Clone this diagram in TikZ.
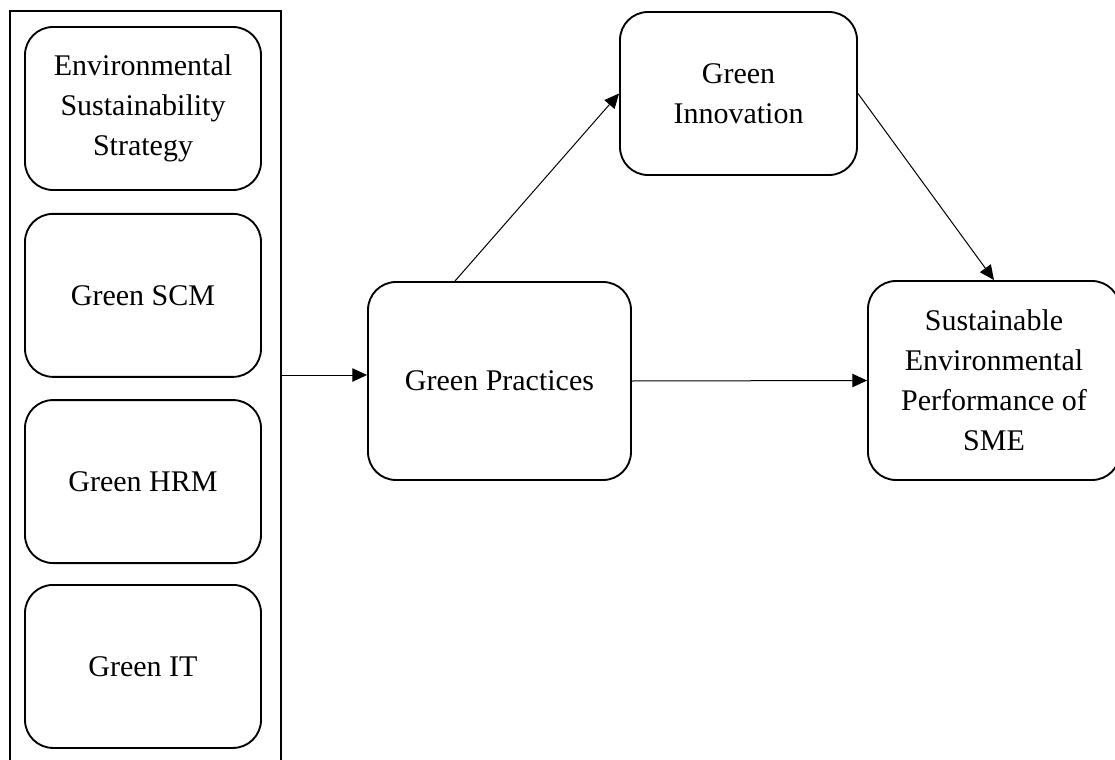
\documentclass[tikz,border=0pt]{standalone}
\usepackage{fontspec}
\setmainfont{Liberation Serif}
\usepackage{tikz}
\usetikzlibrary{positioning,arrows.meta}

\begin{document}
\begin{tikzpicture}[x=0.75pt,y=-0.75pt,
  box/.style={draw,line width=1.4pt,rounded corners=21pt,align=center,
    inner sep=0pt,font=\fontsize{22.5}{30}\selectfont},
  factor/.style={box,minimum width=177pt,minimum height=122.25pt},
  link/.style={-{Triangle[length=11pt,width=10pt]},line width=0.75pt}]
  \clip (0,0) rectangle (1115,760);

  \node (frame) [draw,line width=1.2pt,inner sep=0pt,
    minimum width=203.25pt,minimum height=576.75pt] at (145.5,395.5) {};

  \node (ess) [factor] at (143,108.5) {Environmental\\Sustainability\\Strategy};
  \node (scm) [factor,below=16.5pt of ess] {Green SCM};
  \node (hrm) [factor,below=16pt of scm] {Green HRM};
  \node (it) [factor,below=15pt of hrm] {Green IT};

  \node (gp) [box,minimum width=197.25pt,minimum height=148.5pt] at (499.5,381) {Green Practices};
  \node (gi) [box,minimum width=177.75pt,minimum height=122.25pt] at (738.5,93.5) {Green\\Innovation};
  \node (sep) [box,minimum width=189pt,minimum height=149.25pt] at (994,380.5)
    {Sustainable\\Environmental\\Performance of\\SME};

  \draw [link] ([yshift=4.5pt]frame.east |- gp.west) -- ([yshift=4.5pt]gp.west);
  \draw [link] ([xshift=-33.4pt]gp.north) -- (gi.west);
  \draw [link] (gi.east) -- (sep.north);
  \draw [link] (gp.east) -- (sep.west);

\end{tikzpicture}
\end{document}
